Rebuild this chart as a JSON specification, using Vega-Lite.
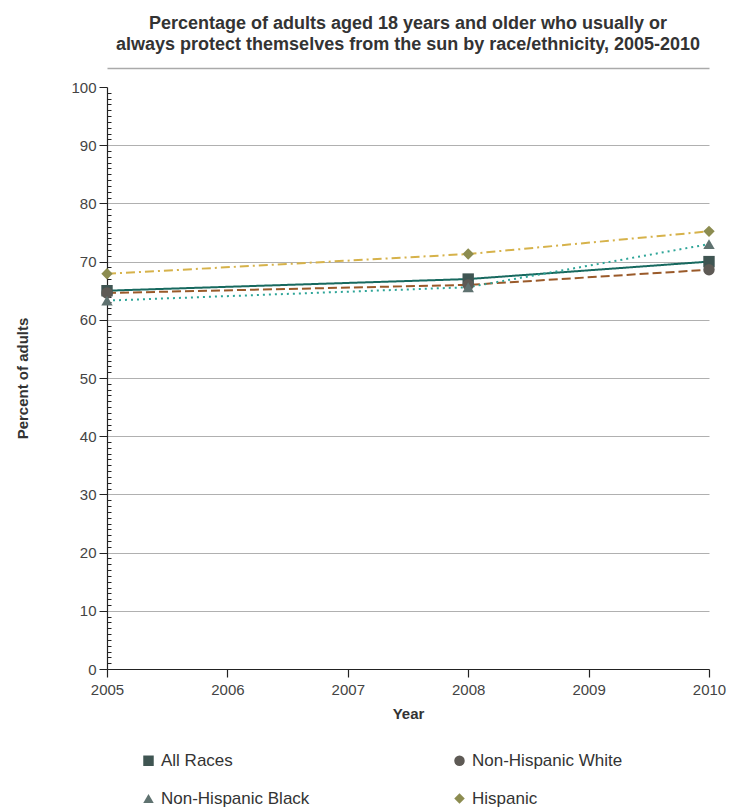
{
  "$schema": "https://vega.github.io/schema/vega-lite/v6.json",
  "autosize": "none",
  "width": 602,
  "height": 582,
  "padding": {"left": 107, "top": 87, "right": 23, "bottom": 138},
  "background": "white",
  "config": {
    "font": "Liberation Sans",
    "view": {"stroke": null}
  },
  "title": {
    "text": ["Percentage of adults aged 18 years and older who usually or", "always protect themselves from the sun by race/ethnicity, 2005-2010"],
    "fontSize": 18,
    "fontWeight": "bold",
    "color": "#333333",
    "anchor": "middle",
    "offset": 14,
    "lineHeight": 21
  },
  "data": {
    "values": [
      {"year": 2005, "group": "All Races", "pct": 65.0},
      {"year": 2008, "group": "All Races", "pct": 67.0},
      {"year": 2010, "group": "All Races", "pct": 70.0},
      {"year": 2005, "group": "Non-Hispanic White", "pct": 64.6},
      {"year": 2008, "group": "Non-Hispanic White", "pct": 66.0},
      {"year": 2010, "group": "Non-Hispanic White", "pct": 68.6},
      {"year": 2005, "group": "Non-Hispanic Black", "pct": 63.3},
      {"year": 2008, "group": "Non-Hispanic Black", "pct": 65.6},
      {"year": 2010, "group": "Non-Hispanic Black", "pct": 73.0},
      {"year": 2005, "group": "Hispanic", "pct": 67.9},
      {"year": 2008, "group": "Hispanic", "pct": 71.3},
      {"year": 2010, "group": "Hispanic", "pct": 75.2}
    ]
  },
  "layer": [
    {
      "encoding": {
        "x": {
          "field": "year", "type": "quantitative",
          "scale": {"domain": [2005, 2010], "nice": false, "zero": false},
          "axis": {
            "title": "Year", "titleFontSize": 15, "titleFontWeight": "bold", "titleColor": "#333333", "titlePadding": 9,
            "format": "d", "values": [2005, 2006, 2007, 2008, 2009, 2010],
            "labelFontSize": 15, "labelColor": "#444444", "labelPadding": 5, "labelFlush": false,
            "domainColor": "#222222", "domainWidth": 1.2,
            "tickColor": "#222222", "tickSize": 8, "tickWidth": 1.2,
            "grid": false
          }
        },
        "y": {
          "field": "pct", "type": "quantitative",
          "scale": {"domain": [0, 100], "nice": false},
          "axis": {
            "title": "Percent of adults", "titleFontSize": 15, "titleFontWeight": "bold", "titleColor": "#333333", "titlePadding": 40,
            "values": [0,1,2,3,4,5,6,7,8,9,10,11,12,13,14,15,16,17,18,19,20,21,22,23,24,25,26,27,28,29,30,31,32,33,34,35,36,37,38,39,40,41,42,43,44,45,46,47,48,49,50,51,52,53,54,55,56,57,58,59,60,61,62,63,64,65,66,67,68,69,70,71,72,73,74,75,76,77,78,79,80,81,82,83,84,85,86,87,88,89,90,91,92,93,94,95,96,97,98,99,100],
            "labelExpr": "datum.value % 10 === 0 ? datum.label : ''",
            "labelFontSize": 15, "labelColor": "#444444", "labelPadding": 3,
            "domainColor": "#222222", "domainWidth": 1.2,
            "tickColor": "#222222", "tickWidth": 1,
            "tickSize": {"condition": {"test": "datum.value % 10 === 0", "value": 8}, "value": -4},
            "grid": true, "gridColor": "#b0b0b0", "gridWidth": 1,
            "gridOpacity": {"condition": {"test": "datum.value % 10 === 0 && datum.value > 0 && datum.value < 100", "value": 1}, "value": 0}
          }
        }
      },
      "layer": [
        {
          "mark": {"type": "line", "strokeWidth": 2},
          "encoding": {
            "detail": {"field": "group"},
            "stroke": {
              "field": "group", "type": "nominal",
              "scale": {"domain": ["All Races", "Non-Hispanic White", "Non-Hispanic Black", "Hispanic"], "range": ["#17695f", "#9a5a2a", "#2ea598", "#d6b24a"]},
              "legend": null
            },
            "strokeDash": {
              "field": "group", "type": "nominal",
              "scale": {"domain": ["All Races", "Non-Hispanic White", "Non-Hispanic Black", "Hispanic"], "range": [[1, 0], [9, 4], [2, 4], [9, 4, 2, 4]]},
              "legend": null
            },
            "strokeWidth": {
              "field": "group", "type": "nominal",
              "scale": {"domain": ["All Races", "Non-Hispanic White", "Non-Hispanic Black", "Hispanic"], "range": [2.8, 2.2, 2.2, 2.2]},
              "legend": null
            }
          }
        },
        {
          "mark": {"type": "point", "filled": true, "opacity": 1, "size": 130},
          "encoding": {
            "shape": {
              "field": "group", "type": "nominal",
              "scale": {"domain": ["All Races", "Non-Hispanic White", "Non-Hispanic Black", "Hispanic"], "range": ["square", "circle", "triangle-up", "diamond"]},
              "legend": {
                "title": null, "orient": "none", "legendX": 33, "legendY": 665,
                "direction": "horizontal", "columns": 2, "columnPadding": 141, "rowPadding": 20,
                "labelFontSize": 17, "labelColor": "#333333", "labelOffset": 4,
                "symbolSize": 110, "symbolStrokeWidth": 0
              }
            },
            "fill": {
              "field": "group", "type": "nominal",
              "scale": {"domain": ["All Races", "Non-Hispanic White", "Non-Hispanic Black", "Hispanic"], "range": ["#3f5552", "#5e5a55", "#5f7270", "#8c8c50"]},
              "legend": {
                "title": null, "orient": "none", "legendX": 33, "legendY": 665,
                "direction": "horizontal", "columns": 2, "columnPadding": 141, "rowPadding": 20,
                "labelFontSize": 17, "labelColor": "#333333", "labelOffset": 4,
                "symbolSize": 110, "symbolStrokeWidth": 0
              }
            }
          }
        }
      ],
      "resolve": {
        "legend": {"stroke": "independent", "strokeDash": "independent", "strokeWidth": "independent", "shape": "independent", "fill": "independent"}
      }
    },
    {
      "mark": {"type": "point", "opacity": 0},
      "encoding": {
        "x": {
          "field": "year", "type": "quantitative",
          "scale": {"domain": [2005, 2010], "nice": false, "zero": false},
          "axis": {"orient": "top", "title": null, "labels": false, "ticks": false, "grid": false, "domainColor": "#aaaaaa", "domainWidth": 1.5, "offset": 19}
        }
      }
    }
  ],
  "resolve": {
    "axis": {"x": "independent"}
  }
}
